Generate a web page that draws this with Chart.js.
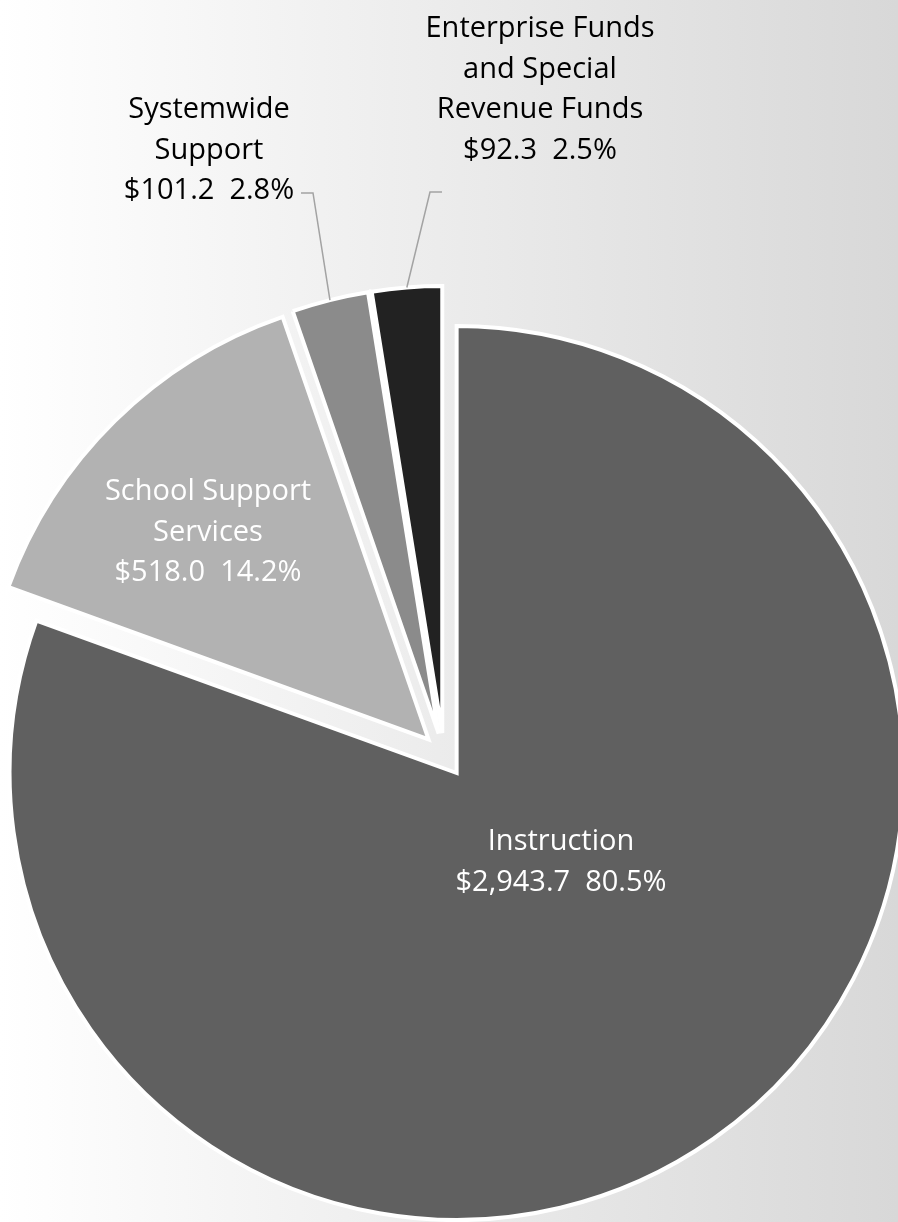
<!DOCTYPE html>
<html>
<head>
<meta charset="utf-8">
<script src="https://cdn.jsdelivr.net/npm/chart.js@4.4.1/dist/chart.umd.min.js"></script>
<style>
html,body{margin:0;padding:0;background:#fff;}
#wrap{width:898px;height:1222px;position:relative;overflow:hidden;}
canvas{display:block;}
</style>
</head>
<body>
<div id="wrap"><canvas id="c" width="898" height="1222"></canvas></div>
<script>
// ---- data ----
const categories = ['Instruction', 'School Support Services', 'Systemwide Support', 'Enterprise Funds and Special Revenue Funds'];
const amounts = [2943.7, 518.0, 101.2, 92.3];
const labelLines = [['Instruction'], ['School Support', 'Services'], ['Systemwide', 'Support'], ['Enterprise Funds', 'and Special', 'Revenue Funds']];

// ---- style ----
const sliceColors = ['#606060', '#b2b2b2', '#8b8b8b', '#222222'];
const EXPLODE = 22;
const FONT = '29px "Open Sans", "Noto Sans", sans-serif';
const LINE_H = 40.5;
const labelStyle = [
  {x: 561, y: 842, color: '#ffffff'},
  {x: 208, y: 492, color: '#ffffff'},
  {x: 209, y: 110, color: '#000000', leader: {elbow: [313, 193], end: [301, 193]}},
  {x: 540, y: 29, color: '#000000', leader: {elbow: [430, 192], end: [442, 192]}}
];

const total = amounts.reduce((a, b) => a + b, 0);
function valueText(i) {
  const v = '$' + amounts[i].toLocaleString('en-US', {minimumFractionDigits: 1, maximumFractionDigits: 1});
  const p = (amounts[i] / total * 100).toFixed(1) + '%';
  return v + '  ' + p;
}

const bgPlugin = {
  id: 'bg',
  beforeDraw(chart) {
    const ctx = chart.ctx;
    const g = ctx.createLinearGradient(0, 0, chart.width, 0);
    g.addColorStop(0, '#ffffff');
    g.addColorStop(1, '#d8d8d8');
    ctx.save();
    ctx.fillStyle = g;
    ctx.fillRect(0, 0, chart.width, chart.height);
    ctx.restore();
  }
};

const explodePlugin = {
  id: 'explode',
  afterDatasetUpdate(chart, args) {
    const meta = chart.getDatasetMeta(args.index);
    meta.data.forEach(arc => {
      const mid = (arc.startAngle + arc.endAngle) / 2;
      arc.x += EXPLODE * Math.cos(mid);
      arc.y += EXPLODE * Math.sin(mid);
    });
  }
};

const labelPlugin = {
  id: 'labels',
  afterDraw(chart) {
    const ctx = chart.ctx;
    const meta = chart.getDatasetMeta(0);
    ctx.save();
    // leader lines
    meta.data.forEach((arc, i) => {
      const s = labelStyle[i];
      if (!s.leader) return;
      const mid = (arc.startAngle + arc.endAngle) / 2;
      const px = arc.x + Math.cos(mid) * arc.outerRadius;
      const py = arc.y + Math.sin(mid) * arc.outerRadius;
      ctx.beginPath();
      ctx.moveTo(px, py);
      ctx.lineTo(s.leader.elbow[0], s.leader.elbow[1]);
      ctx.lineTo(s.leader.end[0], s.leader.end[1]);
      ctx.strokeStyle = '#a3a3a3';
      ctx.lineWidth = 1.5;
      ctx.stroke();
    });
    // texts
    ctx.font = FONT;
    ctx.textAlign = 'center';
    ctx.textBaseline = 'middle';
    labelLines.forEach((lines, i) => {
      const s = labelStyle[i];
      const all = lines.concat([valueText(i)]);
      ctx.fillStyle = s.color;
      all.forEach((t, k) => ctx.fillText(t, s.x, s.y + k * LINE_H));
    });
    ctx.restore();
  }
};

new Chart(document.getElementById('c'), {
  type: 'pie',
  data: {
    labels: categories,
    datasets: [{
      data: amounts,
      backgroundColor: sliceColors,
      borderColor: '#ffffff',
      borderWidth: 4,
      borderJoinStyle: 'miter',
      radius: 447
    }]
  },
  options: {
    responsive: false,
    maintainAspectRatio: false,
    animation: false,
    events: [],
    layout: {padding: {top: 288, left: 0, right: 10, bottom: 0}},
    plugins: {legend: {display: false}, tooltip: {enabled: false}}
  },
  plugins: [bgPlugin, explodePlugin, labelPlugin]
});
</script>
</body>
</html>
